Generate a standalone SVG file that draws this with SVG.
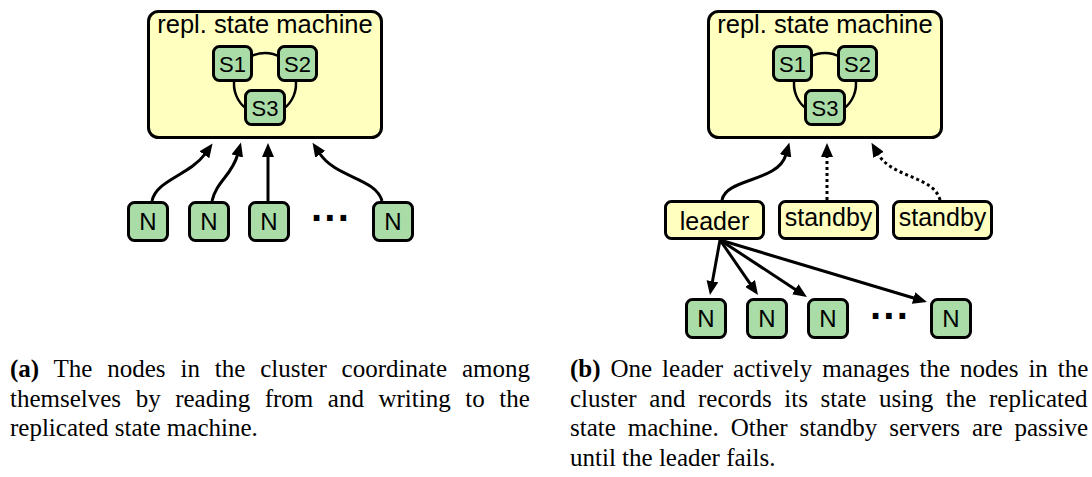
<svg xmlns="http://www.w3.org/2000/svg" width="1092" height="477" viewBox="0 0 1092 477">
<style>
.box{fill:#ffffc0;stroke:#000;stroke-width:3}
.g{fill:#aadca8;stroke:#000;stroke-width:3}
.y{fill:#ffffc0;stroke:#000;stroke-width:3}
.t{font-family:"Liberation Sans",Arial,sans-serif;fill:#000;text-anchor:middle}
.title{font-size:25.5px}
.s{font-size:22px}
.n{font-size:24px}
.l{font-size:25px}
.dots{font-size:40px;font-weight:bold}
.link{fill:none;stroke:#000;stroke-width:2.5}
.arr{fill:none;stroke:#000;stroke-width:3;marker-end:url(#ah)}
.dot{stroke-dasharray:3 3}
.cap{font-family:"Liberation Serif","Times New Roman",serif;font-size:25px;fill:#000}
</style>
<defs>
<marker id="ah" viewBox="0 0 14 12" refX="1" refY="6" markerWidth="14" markerHeight="12" markerUnits="userSpaceOnUse" orient="auto">
<path d="M0,0 L14,6 L0,12 z" fill="#000"/>
</marker>
</defs>
<rect width="1092" height="477" fill="#fff"/>

<!-- Panel (a) -->
<g id="a-rsm"><rect class="box" x="148.5" y="11.5" width="233" height="126" rx="10"/><text class="t title" x="265" y="33">repl. state machine</text></g>
<g id="a-links">
<path class="link" d="M249.5,57.15 A31,31 0 0 1 280.5,57.15"/>
<path class="link" d="M234.47,78.6 A31,31 0 0 0 247.2,109.4"/>
<path class="link" d="M295.53,78.6 A31,31 0 0 1 282.78,109.4"/>
</g>
<g id="a-s1"><rect class="g" x="213.5" y="46.5" width="38" height="34" rx="6"/><text class="t s" x="232.5" y="71.5">S1</text></g>
<g id="a-s2"><rect class="g" x="278.5" y="46.5" width="38" height="34" rx="6"/><text class="t s" x="297.5" y="71.5">S2</text></g>
<g id="a-s3"><rect class="g" x="245.5" y="90.5" width="39" height="34" rx="6"/><text class="t s" x="265" y="115.5">S3</text></g>

<g id="a-connectors">
<path class="arr" d="M152,201 C156,180 190,175 205,154"/>
<path class="arr" d="M212,201 C216,182 232,175 237.5,155"/>
<path class="arr" d="M268,201 L268,156"/>
<path class="arr" d="M382,201 C376,178 336,178 319.7,153.5"/>
</g>
<g id="a-n1"><rect class="g" x="128.5" y="202.5" width="39" height="38" rx="6"/><text class="t n" x="148" y="230">N</text></g>
<g id="a-n2"><rect class="g" x="189.5" y="202.5" width="39" height="38" rx="6"/><text class="t n" x="209" y="230">N</text></g>
<g id="a-n3"><rect class="g" x="249.5" y="202.5" width="39" height="38" rx="6"/><text class="t n" x="269" y="230">N</text></g>
<text class="t dots" x="331" y="232">···</text>
<g id="a-n4"><rect class="g" x="373.5" y="202.5" width="39" height="38" rx="6"/><text class="t n" x="393" y="230">N</text></g>

<!-- Panel (b) -->
<g id="b-rsm"><rect class="box" x="708.5" y="11.5" width="233" height="126" rx="10"/><text class="t title" x="825" y="33">repl. state machine</text></g>
<g id="b-links">
<path class="link" d="M809.5,57.15 A31,31 0 0 1 840.5,57.15"/>
<path class="link" d="M794.47,78.6 A31,31 0 0 0 807.2,109.4"/>
<path class="link" d="M855.53,78.6 A31,31 0 0 1 842.78,109.4"/>
</g>
<g id="b-s1"><rect class="g" x="773.5" y="46.5" width="38" height="34" rx="6"/><text class="t s" x="792.5" y="71.5">S1</text></g>
<g id="b-s2"><rect class="g" x="838.5" y="46.5" width="38" height="34" rx="6"/><text class="t s" x="857.5" y="71.5">S2</text></g>
<g id="b-s3"><rect class="g" x="805.5" y="90.5" width="39" height="34" rx="6"/><text class="t s" x="825" y="115.5">S3</text></g>

<g id="b-connectors">
<path class="arr" d="M722,200 C726,178 778,182 785.8,155"/>
<path class="arr dot" d="M827,200 L827,156"/>
<path class="arr dot" d="M940,200 C934,176 892,178 878,154"/>
<path class="arr" d="M720,240 L712.3,282.2"/>
<path class="arr" d="M720,240 L750.6,284.3"/>
<path class="arr" d="M720,240 L796.1,289.9"/>
<path class="arr" d="M720,240 L914.5,298.3"/>
</g>
<g id="b-leader"><rect class="y" x="665.5" y="201.5" width="98" height="37" rx="6"/><text class="t l" x="714.5" y="229.5">leader</text></g>
<g id="b-standby1"><rect class="y" x="779.5" y="201.5" width="98" height="37" rx="6"/><text class="t l" x="828.5" y="226">standby</text></g>
<g id="b-standby2"><rect class="y" x="893.5" y="201.5" width="98" height="37" rx="6"/><text class="t l" x="942.5" y="226">standby</text></g>

<g id="b-n1"><rect class="g" x="686.5" y="299.5" width="39" height="38" rx="6"/><text class="t n" x="706" y="327">N</text></g>
<g id="b-n2"><rect class="g" x="747.5" y="299.5" width="39" height="38" rx="6"/><text class="t n" x="767" y="327">N</text></g>
<g id="b-n3"><rect class="g" x="808.5" y="299.5" width="39" height="38" rx="6"/><text class="t n" x="828" y="327">N</text></g>
<text class="t dots" x="890" y="330">···</text>
<g id="b-n4"><rect class="g" x="931.5" y="299.5" width="39" height="38" rx="6"/><text class="t n" x="951" y="327">N</text></g>

<!-- Captions -->
<g id="caption-a">
<text class="cap" x="10" y="377" word-spacing="8.6"><tspan font-weight="bold">(a)</tspan> The nodes in the cluster coordinate among</text>
<text class="cap" x="10" y="406.5" word-spacing="8.3">themselves by reading from and writing to the</text>
<text class="cap" x="10" y="436">replicated state machine.</text>
</g>
<g id="caption-b">
<text class="cap" x="570" y="377" word-spacing="3.7"><tspan font-weight="bold">(b)</tspan> One leader actively manages the nodes in the</text>
<text class="cap" x="570" y="406.5" word-spacing="6.4">cluster and records its state using the replicated</text>
<text class="cap" x="570" y="436" word-spacing="5.7">state machine. Other standby servers are passive</text>
<text class="cap" x="570" y="465.5">until the leader fails.</text>
</g>
</svg>
